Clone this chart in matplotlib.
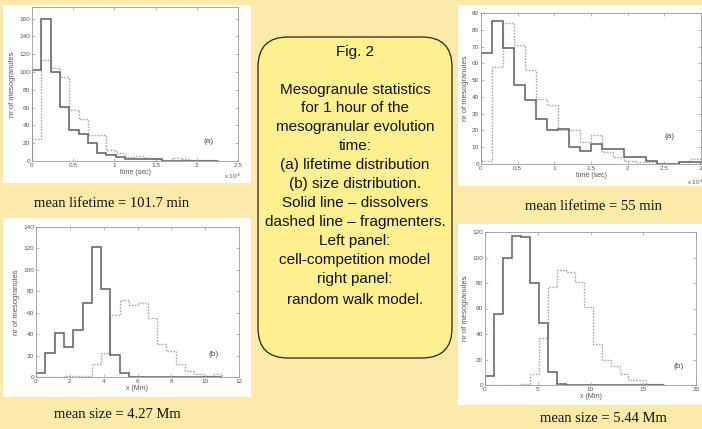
import numpy as np
import matplotlib
matplotlib.use("Agg")
import matplotlib.pyplot as plt
from matplotlib.patches import Rectangle, FancyBboxPatch
from matplotlib.ticker import FuncFormatter

# %%
# figure size in pixels (dpi 100)
W, H = 702, 429

# lifetime distribution (a), cell-competition model (left)
life_left_bin = 1130          # sec
life_left_solid = [102, 160, 100, 61, 35, 30, 20, 9, 7, 4, 2, 2, 2, 2, 0, 0, 0, 0, 0, 0]
life_left_dashed = [25, 113, 104, 94, 57, 47, 29, 29, 12, 9, 5, 6, 3, 2, 0, 3, 2, 1, 1, 1]

# lifetime distribution (a), random walk model (right)
life_right_bin = 1500         # sec
life_right_solid = [66, 85, 69, 47, 38, 27, 20, 21, 10, 8, 12, 9, 9, 4, 4, 2, 0, 0, 1, 1]
life_right_dashed = [2, 58, 84, 71, 56, 39, 35, 20, 20, 13, 17, 7, 4, 2, 1, 1, 0, 0, 1, 3]

# size distribution (b), cell-competition model (left)
size_left_bin = 0.55          # Mm
size_left_solid = [4, 22, 41, 28, 44, 69, 121, 82, 21, 4, 0, 0, 0, 0, 0, 0, 0, 0, 0, 0]
size_left_dashed = [0, 0, 0, 1, 1, 1, 12, 22, 58, 72, 67, 69, 55, 31, 24, 12, 6, 3, 1, 3]

# size distribution (b), random walk model (right)
size_right_bin = 0.85         # Mm
size_right_solid = [7, 56, 100, 117, 116, 80, 49, 10, 1, 0, 0, 0, 0, 0, 0, 0, 0, 0, 0, 0]
size_right_dashed = [0, 0, 0, 0, 1, 9, 37, 77, 90, 89, 81, 61, 32, 20, 15, 9, 4, 4, 1, 1]

captions = ["mean lifetime = 101.7 min", "mean lifetime = 55 min",
            "mean size = 4.27 Mm", "mean size = 5.44 Mm"]

box_lines = ["Fig. 2", "Mesogranule statistics", "for 1 hour of the",
             "mesogranular evolution", "time:", "(a) lifetime distribution",
             "(b) size distribution.", "Solid line \u2013 dissolvers",
             "dashed line \u2013 fragmenters.", "Left panel:",
             "cell-competition model", "right panel:", "random walk model."]
box_line_y = [52, 90, 108, 127, 146, 165, 184, 203, 222, 241, 260, 279, 300]

# %%
BG = "#fceaa8"
BOX = "#fef08e"
GRID = "#9a9a9a"
SOLID = "#5e5e5e"
DASHED = "#a8a8a8"


def px_rect(x0, y0, x1, y1):
    # pixel box (origin top-left) -> figure fraction [left, bottom, width, height]
    return [x0 / W, 1 - y1 / H, (x1 - x0) / W, (y1 - y0) / H]


def panel(fig, x0, y0, x1, y1):
    l, b, w, h = px_rect(x0, y0, x1, y1)
    fig.add_artist(Rectangle((l, b), w, h, transform=fig.transFigure,
                             facecolor="white", edgecolor="none", zorder=0))


def draw_hist(ax, bin_w, solid, dashed):
    edges = np.arange(len(solid) + 1) * bin_w
    ax.stairs(dashed, edges, color=DASHED, lw=1.0, linestyle=(0, (1.2, 1.0)))
    ax.stairs(solid, edges, color=SOLID, lw=1.1)


def style(ax, xlim, ylim, xticks, yticks, xlabel, tag, tag_xy, scale=None):
    ax.set_xlim(*xlim)
    ax.set_ylim(*ylim)
    ax.set_xticks(xticks)
    ax.set_yticks(yticks)
    if scale:
        ax.xaxis.set_major_formatter(FuncFormatter(lambda v, p: "%g" % (v / scale)))
    ax.tick_params(direction="in", length=2, width=0.5, color=GRID,
                   labelsize=4.6, labelcolor="#555555", pad=1.5,
                   top=True, right=True)
    for s in ax.spines.values():
        s.set_color(GRID)
        s.set_linewidth(0.6)
    ax.set_xlabel(xlabel, fontsize=5, color="#555555", labelpad=1)
    ax.set_ylabel("nr of mesogranules", fontsize=5.5, color="#555555", labelpad=2)
    ax.text(tag_xy[0], tag_xy[1], tag, transform=ax.transAxes, fontsize=6,
            color="#444444", ha="center", va="center")
    ax.set_facecolor("white")


plt.rcParams["font.family"] = ["Liberation Sans", "DejaVu Sans"]
fig = plt.figure(figsize=(W / 100, H / 100), dpi=100, facecolor=BG)

# white panels behind the four plots
panel(fig, 3, 5, 251, 183)
panel(fig, 458, 5, 702, 186)
panel(fig, 3, 218, 251, 397)
panel(fig, 458, 224, 702, 405)

# top-left: lifetime, cell competition
ax1 = fig.add_axes(px_rect(32, 7, 238, 161))
draw_hist(ax1, life_left_bin, life_left_solid, life_left_dashed)
style(ax1, (0, 25000), (0, 173), np.arange(0, 25001, 5000), np.arange(0, 161, 20),
      "time (sec)", "(a)", (0.855, 0.125), scale=1e4)
fig.text(232 / W, 1 - 176 / H, r"x 10$^4$", fontsize=4.6, color="#555555",
         ha="center", va="center")

# top-right: lifetime, random walk
ax2 = fig.add_axes(px_rect(481, 13, 701, 164))
draw_hist(ax2, life_right_bin, life_right_solid, life_right_dashed)
style(ax2, (0, 30000), (0, 90), np.arange(0, 30001, 5000), np.arange(0, 91, 10),
      "time (sec)", "(a)", (0.857, 0.18), scale=1e4)
fig.text(695 / W, 1 - 182 / H, r"x 10$^4$", fontsize=4.6, color="#555555",
         ha="center", va="center")

# bottom-left: size, cell competition
ax3 = fig.add_axes(px_rect(36, 227, 239, 377))
draw_hist(ax3, size_left_bin, size_left_solid, size_left_dashed)
style(ax3, (0, 12), (0, 140), np.arange(0, 13, 2), np.arange(0, 141, 20),
      "x (Mm)", "(b)", (0.876, 0.15))

# bottom-right: size, random walk
ax4 = fig.add_axes(px_rect(485, 232, 696, 385))
draw_hist(ax4, size_right_bin, size_right_solid, size_right_dashed)
style(ax4, (0, 20), (0, 120), np.arange(0, 21, 5), np.arange(0, 121, 20),
      "x (Mm)", "(b)", (0.916, 0.12))

# captions under the panels
cap_pos = [(112, 203), (593, 207), (117, 415), (603, 419)]
for txt, (cx, cy) in zip(captions, cap_pos):
    fig.text(cx / W, 1 - cy / H, txt, fontsize=10.5, family="Liberation Serif",
             color="#111111", ha="center", va="center")

# central rounded box with the description
bx0, by0, bx1, by1 = 258, 37, 452, 358
box = FancyBboxPatch((bx0 / 100, (H - by1) / 100), (bx1 - bx0) / 100, (by1 - by0) / 100,
                     boxstyle="round,pad=0,rounding_size=0.3",
                     transform=fig.dpi_scale_trans, facecolor=BOX,
                     edgecolor="#222222", lw=0.9, zorder=1)
fig.add_artist(box)
for txt, ly in zip(box_lines, box_line_y):
    fig.text(355 / W, 1 - ly / H, txt, fontsize=11, color="#111111",
             ha="center", va="center", zorder=2)

fig.savefig("out.png", dpi=100, facecolor=BG)
